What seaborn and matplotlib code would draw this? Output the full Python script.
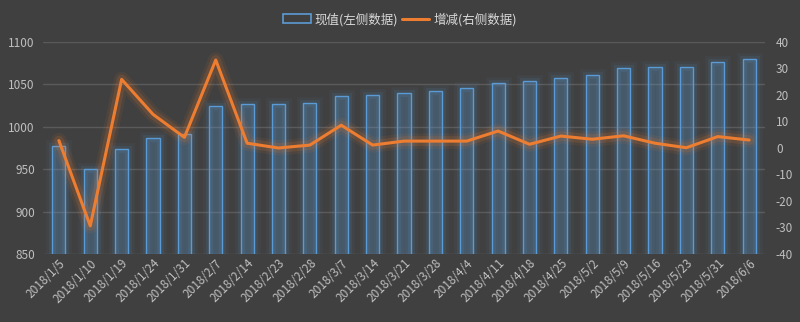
import numpy as np
import pandas as pd
import seaborn as sns
import matplotlib
matplotlib.use("Agg")
import matplotlib.pyplot as plt
import matplotlib.patheffects as pe
from matplotlib.patches import Patch
from matplotlib.lines import Line2D

dates = ["2018/1/5", "2018/1/10", "2018/1/19", "2018/1/24", "2018/1/31", "2018/2/7",
         "2018/2/14", "2018/2/23", "2018/2/28", "2018/3/7", "2018/3/14", "2018/3/21",
         "2018/3/28", "2018/4/4", "2018/4/11", "2018/4/18", "2018/4/25", "2018/5/2",
         "2018/5/9", "2018/5/16", "2018/5/23", "2018/5/31", "2018/6/6"]
current_values = [977, 950, 973.5, 987, 991, 1024, 1026.5, 1026.5, 1027.7, 1036, 1037,
                  1039.5, 1042, 1045.4, 1051.3, 1053.6, 1057, 1060.7, 1069, 1071, 1071,
                  1076, 1079.6]
changes = [2.8, -29.4, 25.9, 12.7, 4.0, 33.2, 1.8, 0.0, 1.1, 8.6, 1.1, 2.6, 2.6, 2.6,
           6.4, 1.4, 4.5, 3.3, 4.6, 1.8, 0.1, 4.3, 3.0]
legend_labels = ["现值(左侧数据)", "增减(右侧数据)"]

BG = "#404040"
BLUE = "#5b9bd5"
ORANGE = "#ed7d31"
TXT = "#bfbfbf"
GRID = "#5a5a5a"

sns.set_theme(style="dark")
plt.rcParams["font.family"] = ["Noto Sans CJK SC", "DejaVu Sans"]
plt.rcParams["axes.unicode_minus"] = False

df = pd.DataFrame({"date": dates, "value": current_values, "change": changes})

fig = plt.figure(figsize=(8, 3.22), dpi=100, facecolor=BG)
ax = fig.add_axes([0.054, 0.2112, 0.902, 0.6584])
ax.set_facecolor(BG)

sns.barplot(data=df, x="date", y="value", ax=ax, width=0.42,
            color=BLUE, linewidth=1.0, edgecolor=BLUE, zorder=3)
for p in ax.patches:
    p.set_facecolor((0.36, 0.61, 0.84, 0.12))
    p.set_edgecolor(BLUE)
    p.set_path_effects([
        pe.Stroke(linewidth=9, foreground=BLUE, alpha=0.06),
        pe.Stroke(linewidth=5, foreground=BLUE, alpha=0.10),
        pe.Normal()])

ax.set_ylim(850, 1100)
ax.set_yticks([850, 900, 950, 1000, 1050, 1100])
ax.set_xlim(-0.5, len(dates) - 0.5)
ax.grid(axis="y", color=GRID, linewidth=1, zorder=0)
ax.grid(axis="x", visible=False)
ax.set_axisbelow(True)
for s in ax.spines.values():
    s.set_visible(False)
ax.set_xlabel("")
ax.set_ylabel("")
ax.tick_params(axis="y", colors=TXT, labelsize=8.5, length=0, pad=6)
ax.tick_params(axis="x", colors=TXT, labelsize=8.5, length=0, pad=2)
plt.setp(ax.get_xticklabels(), rotation=45, ha="right", rotation_mode="anchor")

ax2 = ax.twinx()
sns.lineplot(x=np.arange(len(dates)), y=changes, ax=ax2, color=ORANGE,
             linewidth=2.2, zorder=4,
             path_effects=[pe.Stroke(linewidth=11, foreground=ORANGE, alpha=0.08),
                           pe.Stroke(linewidth=7, foreground=ORANGE, alpha=0.15),
                           pe.Normal()])
ax2.set_ylim(-40, 40)
ax2.set_yticks(range(-40, 41, 10))
ax2.grid(False)
for s in ax2.spines.values():
    s.set_visible(False)
ax2.tick_params(axis="y", colors=TXT, labelsize=8.5, length=0, pad=8)
ax2.set_xlim(-0.5, len(dates) - 0.5)

handles = [Patch(facecolor="none", edgecolor=BLUE, linewidth=1.2),
           Line2D([0], [0], color=ORANGE, linewidth=2.2)]
leg = fig.legend(handles, legend_labels, loc="center", bbox_to_anchor=(0.5, 0.94),
                 ncol=2, frameon=False, fontsize=9, labelcolor="#d9d9d9",
                 handlelength=2.2, handletextpad=0.3, columnspacing=0.3)

fig.savefig("out.png", dpi=100, facecolor=BG)
